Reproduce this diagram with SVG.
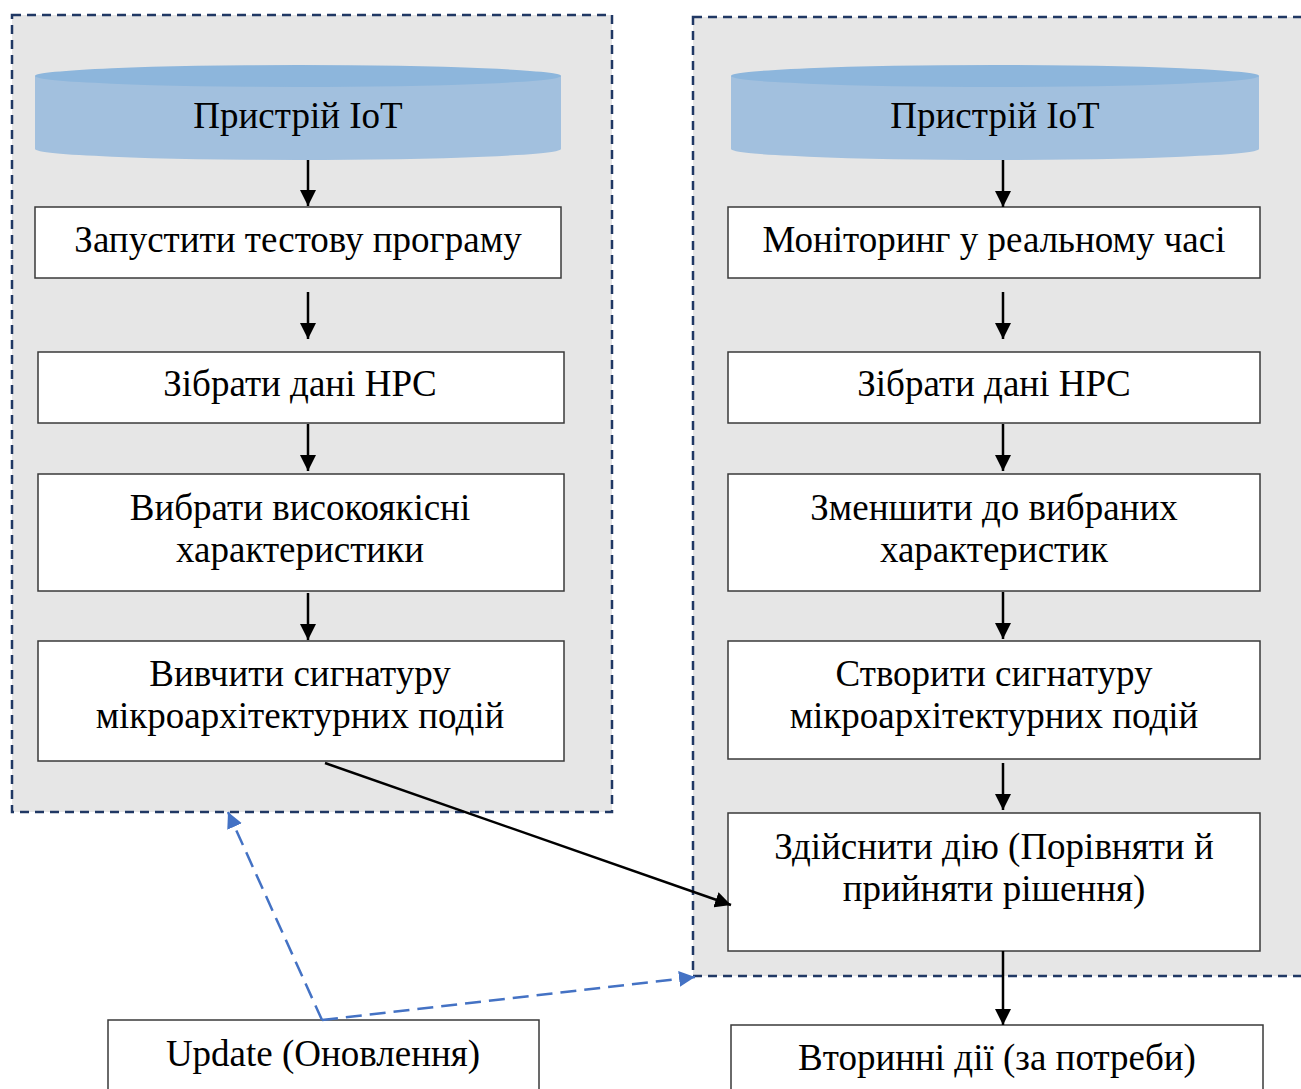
<svg xmlns="http://www.w3.org/2000/svg" width="1301" height="1089" viewBox="0 0 1301 1089">
<defs>
<style>
.cont{fill:#e6e6e6;stroke:#203864;stroke-width:2.5;stroke-dasharray:9,6}
.box{fill:#ffffff;stroke:#3a3a3a;stroke-width:1.5}
.t{font-family:"Liberation Serif","Times New Roman",serif;font-size:37px;fill:#000;text-anchor:middle}
.a{stroke:#000;stroke-width:2.5;fill:none;marker-end:url(#ah)}
.b{stroke:#4472c4;stroke-width:2.5;fill:none;stroke-dasharray:16,8;marker-end:url(#bh)}
.cylbody{fill:#a2c0de}
.cyltop{fill:#8db6dc}
</style>
<marker id="ah" markerWidth="16" markerHeight="16" refX="16" refY="8" orient="auto" markerUnits="userSpaceOnUse" viewBox="0 0 16 16">
<path d="M0,0 L16,8 L0,16 z" fill="#000"/>
</marker>
<marker id="bh" markerWidth="16" markerHeight="16" refX="16" refY="8" orient="auto" markerUnits="userSpaceOnUse" viewBox="0 0 16 16">
<path d="M0,0 L16,8 L0,16 z" fill="#4472c4"/>
</marker>
</defs>
<rect x="0" y="0" width="1301" height="1089" fill="#ffffff"/>
<g id="container-left"><rect class="cont" x="12" y="15" width="600" height="797"/></g>
<g id="container-right"><rect class="cont" x="693" y="17" width="620" height="959"/></g>

<g id="cyl-left">
<path class="cylbody" d="M35,76 L35,149 A263,11 0 0 0 561,149 L561,76 z"/>
<ellipse class="cyltop" cx="298" cy="76" rx="263" ry="11"/>
<text class="t" x="298" y="128">Пристрій IoT</text>
</g>
<g id="l1"><rect class="box" x="35" y="207" width="526" height="71"/><text class="t" x="298" y="252">Запустити тестову програму</text></g>
<g id="l2"><rect class="box" x="38" y="352" width="526" height="71"/><text class="t" x="300" y="396">Зібрати дані HPC</text></g>
<g id="l3"><rect class="box" x="38" y="474" width="526" height="117"/><text class="t" x="300" y="520">Вибрати високоякісні</text><text class="t" x="300" y="562">характеристики</text></g>
<g id="l4"><rect class="box" x="38" y="641" width="526" height="120"/><text class="t" x="300" y="686">Вивчити сигнатуру</text><text class="t" x="300" y="728">мікроархітектурних подій</text></g>

<g id="cyl-right">
<path class="cylbody" d="M731,76 L731,149 A264,11 0 0 0 1259,149 L1259,76 z"/>
<ellipse class="cyltop" cx="995" cy="76" rx="264" ry="11"/>
<text class="t" x="995" y="128">Пристрій IoT</text>
</g>
<g id="r1"><rect class="box" x="728" y="207" width="532" height="71"/><text class="t" x="994" y="252">Моніторинг у реальному часі</text></g>
<g id="r2"><rect class="box" x="728" y="352" width="532" height="71"/><text class="t" x="994" y="396">Зібрати дані HPC</text></g>
<g id="r3"><rect class="box" x="728" y="474" width="532" height="117"/><text class="t" x="994" y="520">Зменшити до вибраних</text><text class="t" x="994" y="562">характеристик</text></g>
<g id="r4"><rect class="box" x="728" y="641" width="532" height="118"/><text class="t" x="994" y="686">Створити сигнатуру</text><text class="t" x="994" y="728">мікроархітектурних подій</text></g>
<g id="r5"><rect class="box" x="728" y="813" width="532" height="138"/><text class="t" x="994" y="859">Здійснити дію (Порівняти й</text><text class="t" x="994" y="901">прийняти рішення)</text></g>
<g id="r6"><rect class="box" x="731" y="1025" width="532" height="80"/><text class="t" x="997" y="1070">Вторинні дії (за потреби)</text></g>
<g id="update"><rect class="box" x="108" y="1020" width="431" height="85"/><text class="t" x="323" y="1066">Update (Оновлення)</text></g>

<g id="connectors">
<line class="a" x1="308" y1="160" x2="308" y2="206"/>
<line class="a" x1="308" y1="292" x2="308" y2="339"/>
<line class="a" x1="308" y1="424" x2="308" y2="471"/>
<line class="a" x1="308" y1="593" x2="308" y2="640"/>
<line class="a" x1="1003" y1="160" x2="1003" y2="207"/>
<line class="a" x1="1003" y1="292" x2="1003" y2="339"/>
<line class="a" x1="1003" y1="424" x2="1003" y2="471"/>
<line class="a" x1="1003" y1="592" x2="1003" y2="639"/>
<line class="a" x1="1003" y1="763" x2="1003" y2="810"/>
<line class="a" x1="1003" y1="951" x2="1003" y2="1025"/>
<line class="a" x1="325" y1="763" x2="731" y2="905"/>
<line class="b" x1="322" y1="1020" x2="228" y2="812"/>
<line class="b" x1="322" y1="1020" x2="695" y2="977"/>
</g>
</svg>
